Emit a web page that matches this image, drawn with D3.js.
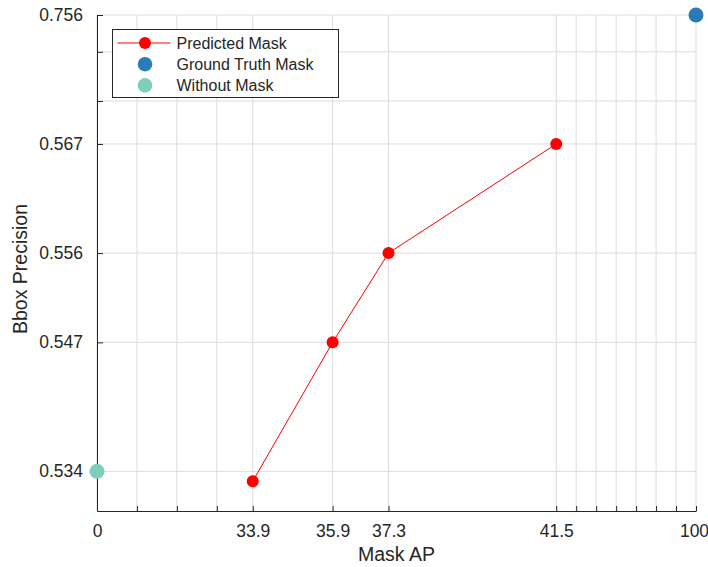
<!DOCTYPE html>
<html>
<head>
<meta charset="utf-8">
<script src="https://cdn.jsdelivr.net/npm/d3@7"></script>
<style>
  body { margin: 0; background: #fff; }
  text { font-family: "Liberation Sans", Arial, sans-serif; fill: #262626; }
</style>
</head>
<body>
<svg id="chart" width="708" height="567"></svg>
<script>
// data
var predictedAP = [33.9, 35.9, 37.3, 41.5];
var predictedPrec = [0.533, 0.547, 0.556, 0.567];
var groundTruth = [100, 0.756];
var withoutMask = [0, 0.534];

// tick values (real units) and labels
var xTickLabels = [0, 33.9, 35.9, 37.3, 41.5, 100];
var xMinorDisplay = [31, 32, 33, 42, 42.5, 43, 43.5, 44, 44.5];
var yTickLabels = [0.534, 0.547, 0.556, 0.567, 0.756];
var yMinorTicks = [0.63, 0.702];

var seriesNames = ["Predicted Mask", "Ground Truth Mask", "Without Mask"];
var seriesColors = ["#ff0000", "#2c7bb9", "#7fcdbb"];

var margin = {left: 97, right: 12, top: 15, bottom: 56};
var W = 708, H = 567;

// axes are broken: real values are warped onto a display axis
var xWarp = d3.scaleLinear().domain([0, 33.9, 41.5, 100]).range([30, 33.9, 41.5, 45]);
var x = d3.scaleLinear().domain([30, 45]).range([margin.left, W - margin.right]);
var yWarp = d3.scaleLinear().domain([0.530, 0.567, 0.756]).range([0.530, 0.567, 0.580]);
var y = d3.scaleLinear().domain([0.530, 0.580]).range([H - margin.bottom, margin.top]);

function px(v) { return x(xWarp(v)); }
function py(v) { return y(yWarp(v)); }

var svg = d3.select("#chart");

var xAll = xTickLabels.map(function(v){ return xWarp(v); }).concat(xMinorDisplay);
var yAll = yTickLabels.map(function(v){ return yWarp(v); }).concat(yMinorTicks.map(function(v){ return yWarp(v); }));

// grid
var grid = svg.append("g").attr("stroke", "#dcdcdc").attr("stroke-width", 1);
grid.selectAll("line.gx").data(xAll).enter().append("line")
  .attr("x1", function(d){ return x(d); }).attr("x2", function(d){ return x(d); })
  .attr("y1", y.range()[0]).attr("y2", y.range()[1]);
grid.selectAll("line.gy").data(yAll).enter().append("line")
  .attr("y1", function(d){ return y(d); }).attr("y2", function(d){ return y(d); })
  .attr("x1", x.range()[0]).attr("x2", x.range()[1]);

// x axis
var xAxis = d3.axisBottom(x).tickValues(xAll).tickSizeInner(-5).tickSizeOuter(0).tickPadding(14)
  .tickFormat(function(d){
    var i = xTickLabels.map(function(v){ return xWarp(v); }).indexOf(d);
    return i >= 0 ? String(xTickLabels[i]) : "";
  });
var gx = svg.append("g").attr("transform", "translate(0," + y.range()[0] + ")").call(xAxis);
gx.select(".domain").attr("stroke", "#262626");
gx.selectAll(".tick line").attr("stroke", "#262626");
gx.selectAll("text").attr("font-size", "17.5px").style("fill", "#262626");
// keep the last label inside the canvas
gx.selectAll("text").filter(function(d){ return d === xWarp(100); }).attr("dx", "-2");

// y axis
var yAxis = d3.axisLeft(y).tickValues(yAll).tickSizeInner(-6).tickSizeOuter(0).tickPadding(14)
  .tickFormat(function(d){
    var i = yTickLabels.map(function(v){ return yWarp(v); }).indexOf(d);
    return i >= 0 ? d3.format(".3f")(yTickLabels[i]) : "";
  });
var gy = svg.append("g").attr("transform", "translate(" + x.range()[0] + ",0)").call(yAxis);
gy.select(".domain").attr("stroke", "#262626");
gy.selectAll(".tick line").attr("stroke", "#262626");
gy.selectAll("text").attr("font-size", "17.5px").style("fill", "#262626");

// axis titles
svg.append("text").attr("x", (x.range()[0] + x.range()[1]) / 2).attr("y", 561)
  .attr("text-anchor", "middle").attr("font-size", "19.5px").text("Mask AP");
svg.append("text").attr("transform", "translate(27," + ((y.range()[0] + y.range()[1]) / 2 + 6) + ") rotate(-90)")
  .attr("text-anchor", "middle").attr("font-size", "19.5px").text("Bbox Precision");

// predicted line + dots
var line = d3.line().x(function(d){ return px(d[0]); }).y(function(d){ return py(d[1]); });
var pts = predictedAP.map(function(v, i){ return [v, predictedPrec[i]]; });
svg.append("path").datum(pts).attr("d", line).attr("fill", "none")
  .attr("stroke", seriesColors[0]).attr("stroke-width", 1);
svg.selectAll("circle.pred").data(pts).enter().append("circle")
  .attr("cx", function(d){ return px(d[0]); }).attr("cy", function(d){ return py(d[1]); })
  .attr("r", 6).attr("fill", seriesColors[0]);

svg.append("circle").attr("cx", px(groundTruth[0])).attr("cy", py(groundTruth[1]))
  .attr("r", 7.5).attr("fill", seriesColors[1]);
svg.append("circle").attr("cx", px(withoutMask[0])).attr("cy", py(withoutMask[1]))
  .attr("r", 7.5).attr("fill", seriesColors[2]);

// legend
var lg = svg.append("g").attr("transform", "translate(112.5,29.5)");
lg.append("rect").attr("width", 226).attr("height", 68).attr("fill", "#fff")
  .attr("stroke", "#262626").attr("stroke-width", 1);
seriesNames.forEach(function(name, i){
  var cy = 13.5 + i * 21.2;
  if (i === 0) {
    lg.append("line").attr("x1", 5).attr("x2", 58).attr("y1", cy).attr("y2", cy)
      .attr("stroke", seriesColors[0]).attr("stroke-width", 1);
  }
  lg.append("circle").attr("cx", 32.5).attr("cy", cy).attr("r", i === 0 ? 6 : 7.3).attr("fill", seriesColors[i]);
  lg.append("text").attr("x", 64).attr("y", cy + 5.5).attr("font-size", "16px").text(name);
});
</script>
</body>
</html>
